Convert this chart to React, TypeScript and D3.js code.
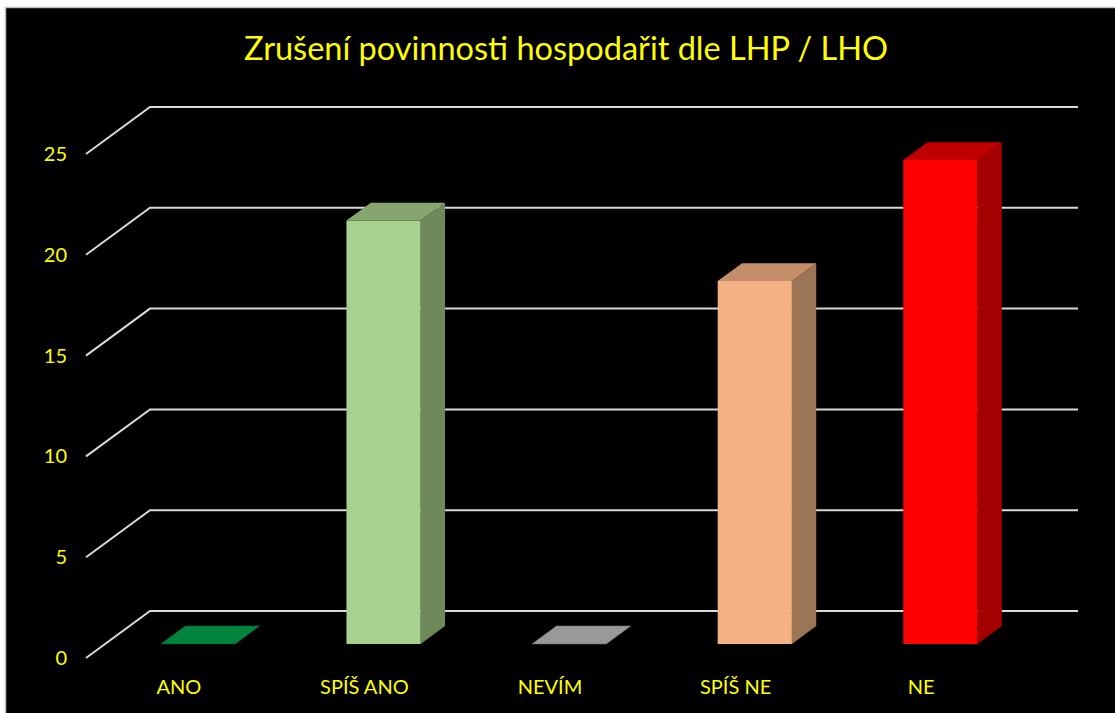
import React from 'react';
import * as d3 from 'd3';

const title = 'Zrušení povinnosti hospodařit dle LHP / LHO';
const categories = ['ANO', 'SPÍŠ ANO', 'NEVÍM', 'SPÍŠ NE', 'NE'];
const values = [0, 21, 0, 18, 24];
const yTicks = [0, 5, 10, 15, 20, 25];
const frontColors = ['#00843D', '#A9D18E', '#999999', '#F4B183', '#FF0000'];
const topColors = ['#00843D', '#86A56F', '#999999', '#C38E69', '#C00000'];
const sideColors = ['#006A31', '#6E8A5B', '#7A7A7A', '#9C7556', '#A50000'];

const W = 1115;
const H = 713;
// depth vector of the floor (back wall -> front edge)
const DX = -64;
const DY = 47;
const FRONT = 0.7; // depth of bar front face
const BACK = 0.32; // depth of bar back face

const x = d3.scaleBand<string>().domain(categories).range([150, 1078]);
const y = d3.scaleLinear().domain([0, 25]).range([611, 107]);

const proj = (px: number, py: number, d: number): [number, number] => [px + DX * d, py + DY * d];
const poly = (pts: [number, number][]) => pts.map(p => p.join(',')).join(' ');

const FONT = 'Lato, "Open Sans", sans-serif';
const YELLOW = '#FFFF00';

function Bar({ i }: { i: number }) {
  const c = categories[i];
  const bw = x.bandwidth() * 0.4;
  const x0 = x(c)! + x.bandwidth() / 2 - bw / 2;
  const x1 = x0 + bw;
  const yb = y(0);
  const yt = y(values[i]);
  const fbl = proj(x0, yb, FRONT), fbr = proj(x1, yb, FRONT);
  const ftl = proj(x0, yt, FRONT), ftr = proj(x1, yt, FRONT);
  const btl = proj(x0, yt, BACK), btr = proj(x1, yt, BACK);
  const bbr = proj(x1, yb, BACK);
  if (values[i] === 0) {
    return (
      <polygon points={poly([ftl, ftr, btr, btl])} fill={frontColors[i]} stroke={sideColors[i]} strokeWidth={0.6} />
    );
  }
  return (
    <g>
      <polygon points={poly([fbl, fbr, ftr, ftl])} fill={frontColors[i]} />
      <polygon points={poly([fbr, bbr, btr, ftr])} fill={sideColors[i]} />
      <polygon points={poly([ftl, ftr, btr, btl])} fill={topColors[i]} />
    </g>
  );
}

export default function App() {
  return (
    <svg width={W} height={H} style={{ position: 'absolute', left: 0, top: 0, display: 'block' }}>
      <rect x={0} y={0} width={W} height={H} fill="#ffffff" />
      <rect x={5.5} y={7.5} width={W} height={H} fill="#000000" stroke="#BFBFBF" strokeWidth={1.5} />
      <text x={566} y={60} textAnchor="middle" fill={YELLOW} fontFamily={FONT} fontSize={32.5}>
        {title}
      </text>
      {yTicks.map(t => {
        const [ex, ey] = proj(150, y(t), 1);
        return (
          <g key={t}>
            <polyline
              points={poly([[ex, ey], [150, y(t)], [1078, y(t)]])}
              fill="none"
              stroke="#D9D9D9"
              strokeWidth={2}
            />
            <text x={67} y={ey} dy="0.35em" textAnchor="end" fill={YELLOW} fontFamily={FONT} fontSize={20}>
              {t}
            </text>
          </g>
        );
      })}
      {categories.map((c, i) => (
        <Bar key={c} i={i} />
      ))}
      {categories.map(c => {
        const [lx] = proj(x(c)! + x.bandwidth() / 2, y(0), 1);
        return (
          <text key={c} x={lx} y={694} textAnchor="middle" fill={YELLOW} fontFamily={FONT} fontSize={20}>
            {c}
          </text>
        );
      })}
    </svg>
  );
}
